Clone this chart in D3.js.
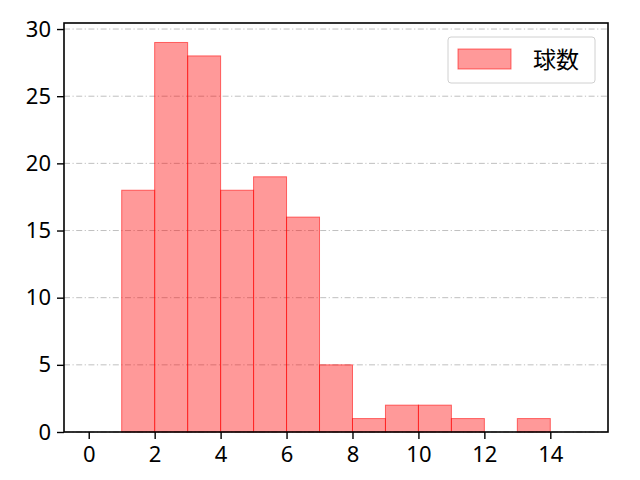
<html>
<head>
  <meta charset="utf-8" />
  <script src="https://cdnjs.cloudflare.com/ajax/libs/d3/7.8.5/d3.min.js"></script>
  <style>
    body { margin: 0; background: #fff; }
    text { font-family: "Noto Sans CJK JP", "Noto Sans", sans-serif; }
  </style>
</head>
<body>
  <svg width="640" height="480"></svg>
  <script>
    // bin edges (left) and counts
    var binStarts = [1, 2, 3, 4, 5, 6, 7, 8, 9, 10, 11, 12, 13, 14]
    var counts    = [18, 29, 28, 18, 19, 16, 5, 1, 2, 2, 1, 0, 1, 0]
    var xTicks    = [0, 2, 4, 6, 8, 10, 12, 14]
    var yTicks    = [0, 5, 10, 15, 20, 25, 30]
    var seriesName = "球数"

    var margin = {left: 64, right: 32, top: 23, bottom: 48}
    var W = 640, H = 480
    var svg = d3.select("svg")

    var x = d3.scaleLinear().domain([-0.75, 15.75]).range([margin.left, W - margin.right])
    var y = d3.scaleLinear().domain([0, 30.45]).range([H - margin.bottom, margin.top])

    // grid
    svg.append("g")
      .selectAll("line")
      .data(yTicks)
      .enter().append("line")
        .attr("x1", x.range()[0]).attr("x2", x.range()[1])
        .attr("y1", d => y(d)).attr("y2", d => y(d))
        .style("stroke", "#b0b0b0")
        .style("stroke-width", 0.8)
        .style("stroke-dasharray", "6,2.5,1.2,2.5")

    var bins = binStarts.map((d, i) => ({x0: d, x1: d + 1, n: counts[i]}))

    svg.append("g")
      .selectAll("rect")
      .data(bins.filter(d => d.n > 0))
      .enter().append("rect")
        .attr("x", d => x(d.x0))
        .attr("width", d => x(d.x1) - x(d.x0))
        .attr("y", d => y(d.n))
        .attr("height", d => y(0) - y(d.n))
        .style("fill", "rgba(255,0,0,0.4)")
        .style("stroke", "rgba(255,0,0,0.55)")
        .style("stroke-width", 1)

    var xAxis = d3.axisBottom(x).tickValues(xTicks).tickSize(7).tickPadding(7)
    var yAxis = d3.axisLeft(y).tickValues(yTicks).tickSize(7).tickPadding(6)

    var gx = svg.append("g").attr("transform", `translate(0,${H - margin.bottom})`).call(xAxis)
    var gy = svg.append("g").attr("transform", `translate(${margin.left},0)`).call(yAxis)
    ;[gx, gy].forEach(g => {
      g.select(".domain").remove()
      g.selectAll(".tick line").style("stroke", "#000").style("stroke-width", 1.4)
      g.selectAll(".tick text").style("font-size", "22px").style("fill", "#000")
        .style("font-family", "\"Noto Sans\", sans-serif")
    })

    // frame
    svg.append("rect")
      .attr("x", x.range()[0]).attr("y", y.range()[1])
      .attr("width", x.range()[1] - x.range()[0])
      .attr("height", y.range()[0] - y.range()[1])
      .style("fill", "none").style("stroke", "#000").style("stroke-width", 1.6)

    // legend
    var lg = svg.append("g").attr("transform", "translate(448,37)")
    lg.append("rect").attr("width", 147).attr("height", 46).attr("rx", 3)
      .style("fill", "rgba(255,255,255,0.8)").style("stroke", "#d0d0d0")
    lg.append("rect").attr("x", 10).attr("y", 12).attr("width", 53).attr("height", 20)
      .style("fill", "rgba(255,0,0,0.4)").style("stroke", "rgba(255,0,0,0.55)")
    lg.append("text").attr("x", 85).attr("y", 31).text(seriesName)
      .style("font-size", "23px")
  </script>
</body>
</html>
